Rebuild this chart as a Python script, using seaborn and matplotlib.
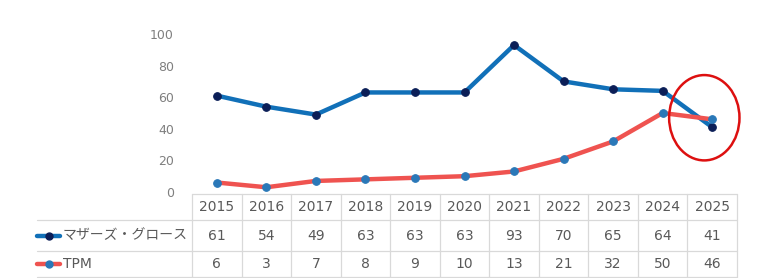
import matplotlib
matplotlib.use("Agg")
import matplotlib.pyplot as plt
import seaborn as sns
import pandas as pd
import numpy as np
from matplotlib.patches import Ellipse
from matplotlib.lines import Line2D

years = ["2015", "2016", "2017", "2018", "2019", "2020", "2021", "2022", "2023", "2024", "2025"]
series_names = ["マザーズ・グロース", "TPM"]
mothers = [61, 54, 49, 63, 63, 63, 93, 70, 65, 64, 41]
tpm = [6, 3, 7, 8, 9, 10, 13, 21, 32, 50, 46]

sns.set_theme(style="white")
plt.rcParams['font.family'] = ['DejaVu Sans', 'Noto Sans CJK JP']

line_colors = ["#1170b8", "#ef5350"]
marker_colors = ["#0b1e57", "#2a78b8"]
text_color = "#595959"
tick_color = "#7f7f7f"
grid_color = "#d9d9d9"

df = pd.DataFrame({
    "idx": list(range(len(years))) * 2,
    "value": mothers + tpm,
    "series": [series_names[0]] * len(years) + [series_names[1]] * len(years),
})

W, H = 780, 278
fig = plt.figure(figsize=(W / 100, H / 100), dpi=100)

x0, x1 = 192, 737
y0, y100 = 192, 34
ax = fig.add_axes([x0 / W, 1 - y0 / H, (x1 - x0) / W, (y0 - y100) / H])

for i, name in enumerate(series_names):
    sub = df[df.series == name]
    sns.lineplot(data=sub, x="idx", y="value", ax=ax, color=line_colors[i],
                 linewidth=3.2, marker="o", markersize=5.5,
                 markerfacecolor=marker_colors[i], markeredgecolor=marker_colors[i],
                 legend=False, zorder=3 + i)

ax.set_xlim(-0.5, len(years) - 0.5)
ax.set_ylim(0, 100)
ax.set_yticks([0, 20, 40, 60, 80, 100])
ax.set_xticks([])
ax.set_xlabel("")
ax.set_ylabel("")
for s in ax.spines.values():
    s.set_visible(False)
ax.tick_params(axis="y", length=0, pad=13, labelsize=9, labelcolor=tick_color)

# highlight ellipse around the last points
ell = Ellipse((len(years) - 1 - 0.16, (mothers[-1] + tpm[-1]) / 2 + 3.5), width=1.42, height=54,
              fill=False, edgecolor="#dd1010", linewidth=1.8, clip_on=False, zorder=6)
ax.add_patch(ell)

# data table in pixel coordinates
tab = fig.add_axes([0, 0, 1, 1])
tab.set_xlim(0, W)
tab.set_ylim(H, 0)
tab.axis("off")
tab.patch.set_alpha(0)

n = len(years)
cw = (x1 - x0) / n
row_y = [194, 220, 251, 277]
lx = 37
lw = 0.9
tab.plot([x0, x1], [row_y[0], row_y[0]], color=grid_color, lw=lw)
for ry in row_y[1:]:
    tab.plot([lx, x1], [ry, ry], color=grid_color, lw=lw)
for j in range(n + 1):
    xx = x0 + j * cw
    tab.plot([xx, xx], [row_y[0], row_y[-1]], color=grid_color, lw=lw)

def cy(r):
    return (row_y[r] + row_y[r + 1]) / 2

for j, yr in enumerate(years):
    xc = x0 + (j + 0.5) * cw
    tab.text(xc, cy(0), yr, ha="center", va="center", fontsize=10, color=text_color)
    tab.text(xc, cy(1), str(mothers[j]), ha="center", va="center", fontsize=10, color=text_color)
    tab.text(xc, cy(2), str(tpm[j]), ha="center", va="center", fontsize=10, color=text_color)

for i, (name, vals) in enumerate(zip(series_names, [mothers, tpm])):
    yy = cy(i + 1)
    tab.add_line(Line2D([lx, lx + 23], [yy, yy], color=line_colors[i], lw=3.2))
    tab.add_line(Line2D([lx + 11.5], [yy], marker="o", markersize=5,
                        markerfacecolor=marker_colors[i], markeredgecolor=marker_colors[i], lw=0))
    tab.text(lx + 26, yy, name, ha="left", va="center", fontsize=10, color=text_color,
             family=['Noto Sans CJK JP', 'DejaVu Sans'] if i == 0 else ['DejaVu Sans'])

fig.savefig("out.png", dpi=100)
